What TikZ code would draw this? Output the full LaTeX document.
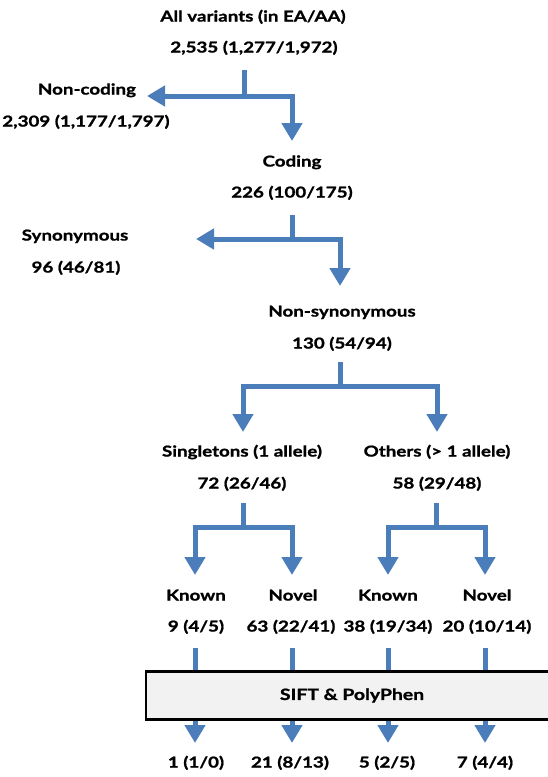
\documentclass[tikz,border=0pt]{standalone}
\usepackage{fontspec}
\setmainfont{Lato}[FakeStretch=1.25, BoldFeatures={FakeBold=1.2}]
\usetikzlibrary{arrows.meta}
\definecolor{arrblue}{HTML}{4A7DBA}
\definecolor{boxgray}{HTML}{F2F2F2}
\tikzset{
  lbl/.style={font=\bfseries\fontsize{15}{17}\selectfont, inner sep=0pt, anchor=mid, yshift=-2pt},
  bline/.style={draw=arrblue, line width=5pt},
  barr/.style={bline, -{Triangle[width=20pt,length=18pt]}},
  siftbox/.style={draw=black, line width=2.5pt, fill=boxgray, inner sep=0pt,
    font=\bfseries\fontsize{15.5}{17}\selectfont}
}
\begin{document}
\begin{tikzpicture}[x=1pt,y=-1pt]
\useasboundingbox (0,0) rectangle (547,777);
% labels
\node[lbl] (all) at (253,17) {All variants (in EA/AA)};
\node[lbl] (allN) at (254,48) {2,535 (1,277/1,972)};
\node[lbl] (noncod) at (87,90) {Non-coding};
\node[lbl] (noncodN) at (86,122) {2,309 (1,177/1,797)};
\node[lbl] (cod) at (292,162) {Coding};
\node[lbl] (codN) at (292,193) {226 (100/175)};
\node[lbl] (syn) at (75,236) {Synonymous};
\node[lbl] (synN) at (76,268) {96 (46/81)};
\node[lbl] (nonsyn) at (342,312) {Non-synonymous};
\node[lbl] (nonsynN) at (342,344) {130 (54/94)};
\node[lbl] (single) at (242,452) {Singletons (1 allele)};
\node[lbl] (singleN) at (242,484) {72 (26/46)};
\node[lbl] (others) at (437,452) {Others (> 1 allele)};
\node[lbl] (othersN) at (437,484) {58 (29/48)};
\node[lbl] (k1) at (196,596) {Known};
\node[lbl] (n1) at (293,596) {Novel};
\node[lbl] (k2) at (388,596) {Known};
\node[lbl] (n2) at (487,596) {Novel};
\node[lbl] (k1N) at (196,627) {9 (4/5)};
\node[lbl] (n1N) at (291,627) {63 (22/41)};
\node[lbl] (k2N) at (388,627) {38 (19/34)};
\node[lbl] (n2N) at (487,627) {20 (10/14)};
\node[lbl] (r1) at (196,763) {1 (1/0)};
\node[lbl] (r2) at (290,763) {21 (8/13)};
\node[lbl] (r3) at (387,763) {5 (2/5)};
\node[lbl] (r4) at (485,763) {7 (4/4)};
% bracket 1
\coordinate (s1) at (244,70);
\coordinate (j1) at (244,96);
\coordinate (t1) at (147,96);
\coordinate (c1) at (292,96);
\coordinate (d1) at (292,141);
\draw[bline] (s1) -- (j1);
\draw[barr] (j1) -- (t1);
\draw[barr] (j1) -- (c1) -- (d1);
% bracket 2
\coordinate (s2) at (292,215);
\coordinate (j2) at (292,239);
\coordinate (t2) at (196,239);
\coordinate (c2) at (340,239);
\coordinate (d2) at (340,286);
\draw[bline] (s2) -- (j2);
\draw[barr] (j2) -- (t2);
\draw[barr] (j2) -- (c2) -- (d2);
% bracket 3
\coordinate (s3) at (340,362);
\coordinate (j3) at (340,386);
\coordinate (c3a) at (243,386);
\coordinate (d3a) at (243,432);
\coordinate (c3b) at (437,386);
\coordinate (d3b) at (437,432);
\draw[bline] (s3) -- (j3);
\draw[barr] (j3) -- (c3a) -- (d3a);
\draw[barr] (j3) -- (c3b) -- (d3b);
% bracket 4
\coordinate (s4) at (243,503);
\coordinate (j4) at (243,527);
\coordinate (c4a) at (195,527);
\coordinate (d4a) at (195,575);
\coordinate (c4b) at (292,527);
\coordinate (d4b) at (292,575);
\draw[bline] (s4) -- (j4);
\draw[barr] (j4) -- (c4a) -- (d4a);
\draw[barr] (j4) -- (c4b) -- (d4b);
% bracket 5
\coordinate (s5) at (436,503);
\coordinate (j5) at (436,527);
\coordinate (c5a) at (388,527);
\coordinate (d5a) at (388,575);
\coordinate (c5b) at (485,527);
\coordinate (d5b) at (485,575);
\draw[bline] (s5) -- (j5);
\draw[barr] (j5) -- (c5a) -- (d5a);
\draw[barr] (j5) -- (c5b) -- (d5b);
% through-box arrows
\coordinate (u1) at (195,648); \coordinate (v1) at (195,743);
\coordinate (u2) at (292,648); \coordinate (v2) at (292,743);
\coordinate (u3) at (388,648); \coordinate (v3) at (388,743);
\coordinate (u4) at (485,648); \coordinate (v4) at (485,743);
\draw[barr] (u1) -- (v1);
\draw[barr] (u2) -- (v2);
\draw[barr] (u3) -- (v3);
\draw[barr] (u4) -- (v4);
% SIFT box
\node[siftbox, minimum width=412pt, minimum height=48pt] (sift) at (352,695.5) {SIFT \& PolyPhen};
\end{tikzpicture}
\end{document}
